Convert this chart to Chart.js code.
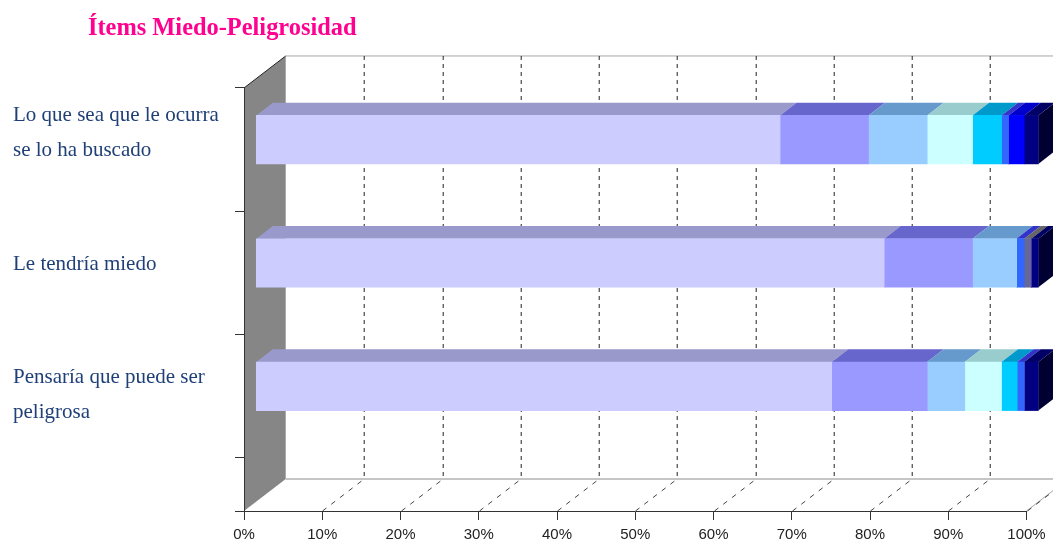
<!DOCTYPE html>
<html>
<head>
<meta charset="utf-8">
<title>Ítems Miedo-Peligrosidad</title>
<script src="https://cdn.jsdelivr.net/npm/chart.js@4"></script>
<style>
    html, body { margin: 0; padding: 0; background: #fff; }
    canvas { display: block; }
</style>
</head>
<body>
<canvas id="itemsChart" width="1053" height="540"></canvas>
<script>
const categories = [
    ['Lo que sea que le ocurra', 'se lo ha buscado'],
    ['Le tendría miedo'],
    ['Pensaría que puede ser', 'peligrosa']
];
const barRows = [0.5, 1.5, 2.5];

const valuesA = [67.0, 80.3, 73.6];
const valuesB = [11.3, 11.3, 12.2];
const valuesC = [7.5, 5.6, 4.8];
const valuesD = [5.8, 0, 4.7];
const valuesE = [3.7, 0, 2.0];
const valuesF = [0.9, 1.0, 0.9];
const valuesG = [0, 0.9, 0];
const valuesH = [2.0, 0, 0];
const valuesI = [1.8, 0.9, 1.8];

const seriesValues = [valuesA, valuesB, valuesC, valuesD, valuesE, valuesF, valuesG, valuesH, valuesI];
const frontColors = ['#CCCCFF', '#9999FF', '#99CCFF', '#CCFFFF', '#00CCFF', '#3366FF', '#666699', '#0000FF', '#000080'];
const topColors = ['#9999CC', '#6666CC', '#6699CC', '#99CCCC', '#0099CC', '#3333CC', '#666666', '#0000CC', '#000066'];
const sideColor = '#000033';

const rowTicks = [0, 1, 2, 3, 3.43];
const labelRows = [0.361, 1.434, 2.486];

// depth of the box and of the bars, in pixels
const boxDepth = { x: 41.7, y: 32 };
const barDepth = { x: 16.5, y: 12.7 };
const barShift = { x: 11.8, y: -10 };

function polygon(ctx, points, fill) {
    ctx.fillStyle = fill;
    ctx.beginPath();
    points.forEach(function (p, i) {
        if (i === 0) ctx.moveTo(p[0], p[1]);
        else ctx.lineTo(p[0], p[1]);
    });
    ctx.closePath();
    ctx.fill();
}

function line(ctx, x1, y1, x2, y2, color, dash) {
    ctx.save();
    ctx.strokeStyle = color;
    ctx.lineWidth = 1;
    ctx.setLineDash(dash || []);
    ctx.beginPath();
    ctx.moveTo(x1, y1);
    ctx.lineTo(x2, y2);
    ctx.stroke();
    ctx.restore();
}

const box3d = {
    id: 'box3d',
    afterLayout: function (chart) {
        chart.titleBlock.left = 88;
    },
    beforeDraw: function (chart) {
        const ctx = chart.ctx;
        const area = chart.chartArea;
        const dx = boxDepth.x;
        const dy = boxDepth.y;

        polygon(ctx, [
            [area.left, area.top],
            [area.left + dx, area.top - dy],
            [area.left + dx, area.bottom - dy],
            [area.left, area.bottom]
        ], '#868686');
        line(ctx, area.left, area.top, area.left + dx, area.top - dy, '#222');

        line(ctx, area.left + dx, area.top - dy, area.right + dx, area.top - dy, '#a6a6a6');
        line(ctx, area.left + dx, area.bottom - dy, area.right + dx, area.bottom - dy, '#8c8c8c');
        line(ctx, area.right, area.bottom, area.right + dx, area.bottom - dy, '#a6a6a6');

        chart.scales.x.ticks.forEach(function (tick, i) {
            if (tick.value === 0) return;
            const px = Math.round(chart.scales.x.getPixelForTick(i)) + 0.5;
            line(ctx, px + dx, area.top - dy, px + dx, area.bottom - dy, '#222', [4, 4]);
            line(ctx, px, area.bottom, px + dx, area.bottom - dy, '#444', [5, 6]);
        });
    },
    beforeDatasetsDraw: function (chart) {
        const ctx = chart.ctx;
        chart.data.datasets.forEach(function (ds, d) {
            chart.getDatasetMeta(d).data.forEach(function (bar, i) {
                if (!ds.data[i].x) return;
                const top = bar.y - bar.height / 2 + barShift.y;
                const bottom = top + bar.height;
                const left = bar.base + barShift.x;
                const right = bar.x + barShift.x;
                polygon(ctx, [
                    [left, top],
                    [right, top],
                    [right + barDepth.x, top - barDepth.y],
                    [left + barDepth.x, top - barDepth.y]
                ], topColors[d]);
                if (d === seriesValues.length - 1) {
                    polygon(ctx, [
                        [right, top],
                        [right + barDepth.x, top - barDepth.y],
                        [right + barDepth.x, bottom - barDepth.y],
                        [right, bottom]
                    ], sideColor);
                }
            });
        });
        ctx.save();
        ctx.translate(barShift.x, barShift.y);
    },
    afterDatasetsDraw: function (chart) {
        chart.ctx.restore();
    }
};

new Chart(document.querySelector('#itemsChart'), {
    type: 'bar',
    data: {
        datasets: seriesValues.map(function (values, s) {
            return {
                data: values.map(function (v, i) {
                    return { x: v, y: barRows[i] };
                }),
                backgroundColor: frontColors[s],
                borderWidth: 0,
                barThickness: 48.5,
                stack: 'items',
                clip: false
            };
        })
    },
    options: {
        indexAxis: 'y',
        responsive: false,
        animation: false,
        devicePixelRatio: 1,
        layout: {
            padding: { left: 13, right: 26.5, top: 0, bottom: 0 }
        },
        plugins: {
            legend: { display: false },
            tooltip: { enabled: false },
            title: {
                display: true,
                text: 'Ítems Miedo-Peligrosidad',
                align: 'start',
                color: '#FF0090',
                font: { family: '"Liberation Serif", serif', size: 24.4, weight: 'bold', lineHeight: 1.2 },
                padding: { top: 14, bottom: 44.7 }
            }
        },
        scales: {
            x: {
                type: 'linear',
                stacked: true,
                min: 0,
                max: 100,
                afterFit: function (scale) {
                    scale.height = 29;
                },
                grid: { drawOnChartArea: false, tickLength: 9, tickColor: '#333' },
                border: { color: '#333', width: 1 },
                ticks: {
                    stepSize: 10,
                    padding: 6,
                    maxRotation: 0,
                    color: '#222',
                    font: { family: '"Liberation Sans", Arial, sans-serif', size: 15 },
                    callback: function (v) {
                        return v + '%';
                    }
                }
            },
            y: {
                type: 'linear',
                stacked: true,
                reverse: true,
                offset: false,
                min: 0,
                max: 3.43,
                afterFit: function (scale) {
                    scale.width = 231;
                },
                afterBuildTicks: function (scale) {
                    scale.ticks = rowTicks.concat(labelRows).sort(function (a, b) {
                        return a - b;
                    }).map(function (v) {
                        return { value: v };
                    });
                },
                grid: {
                    offset: false,
                    drawOnChartArea: false,
                    tickLength: 9,
                    tickColor: function (ctx) {
                        return ctx.tick && ctx.tick.label ? 'rgba(0,0,0,0)' : '#333';
                    }
                },
                border: { color: '#333', width: 1 },
                ticks: {
                    autoSkip: false,
                    crossAlign: 'far',
                    color: '#1F3F77',
                    font: { family: '"Liberation Serif", serif', size: 21, lineHeight: '35px' },
                    callback: function (v) {
                        const i = labelRows.indexOf(v);
                        return i >= 0 ? categories[i] : '';
                    }
                }
            }
        }
    },
    plugins: [box3d]
});
</script>
</body>
</html>
